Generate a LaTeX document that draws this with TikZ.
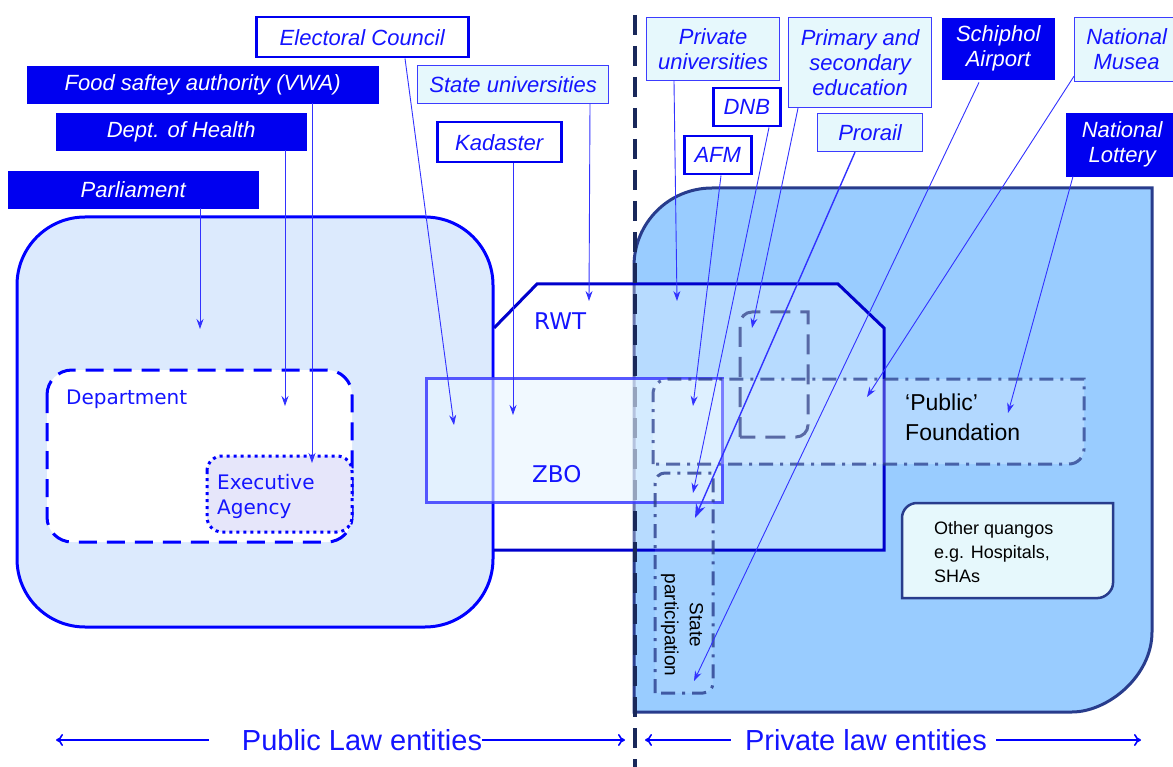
\documentclass[tikz,border=0pt]{standalone}
\usepackage{fontspec}
\setmainfont{Liberation Sans}
\newfontfamily\dvsans{DejaVu Sans}
\usetikzlibrary{arrows.meta}
\definecolor{txtblue}{RGB}{20,20,255}
\definecolor{boxblue}{RGB}{0,0,240}
\definecolor{lineblue}{RGB}{0,0,255}
\definecolor{navyedge}{RGB}{40,60,140}
\definecolor{rwtblue}{RGB}{0,0,204}
\definecolor{regionfill}{RGB}{153,204,255}
\definecolor{leftfill}{RGB}{220,234,253}
\definecolor{cyanfill}{RGB}{230,248,252}
\definecolor{labedge}{RGB}{60,60,255}
\definecolor{arrowblue}{RGB}{50,50,255}
\definecolor{dashnavy}{RGB}{25,40,90}
\definecolor{dashgray}{RGB}{70,85,150}
\definecolor{agencyfill}{RGB}{230,230,250}
\definecolor{zbofill}{RGB}{232,246,255}
\newcommand\labfont{\fontsize{22}{25}\selectfont\itshape}
\begin{document}
\begin{tikzpicture}[x=1pt,y=-1pt,
  lab/.style={font=\labfont, inner sep=0pt, align=center, anchor=north west},
  darkbox/.style={lab, fill=boxblue, draw=boxblue, text=white},
  whitebox/.style={lab, fill=white, draw=boxblue, line width=2.5pt, text=txtblue},
  cyanbox/.style={lab, fill=cyanfill, draw=labedge, line width=1.2pt, text=txtblue},
  conn/.style={draw=arrowblue, line width=0.9pt, -{Stealth[length=10pt,width=7pt]}},
  bigconn/.style={draw=arrowblue, line width=1.4pt, -{Stealth[length=14pt,width=10pt]}},
  lawarrow/.style={draw=lineblue, line width=1.6pt, -{To[length=7pt,width=12pt]}},
  inlabel/.style={inner sep=0pt, anchor=base west, text=txtblue, font=\dvsans\fontsize{20}{25}\selectfont},
  blacklabel/.style={inner sep=0pt, anchor=base west, text=black},
]
\useasboundingbox (0,0) rectangle (1173,767);
\fill[white] (0,0) rectangle (1173,767);

% left region (public law)
\draw[fill=leftfill, draw=lineblue, line width=3pt, rounded corners=68pt] (17,217) rectangle (493,627);
% right region (private law)
\draw[fill=regionfill, draw=navyedge, line width=3pt]
  (634,712) -- (634,266) .. controls (634,222.9) and (668.9,188) .. (712,188)
  -- (1152,188) -- (1152,632) .. controls (1152,676.2) and (1107.8,712) .. (1072,712) -- cycle;

% Department and Executive Agency
\draw[fill=white, draw=lineblue, line width=3pt, dash pattern=on 18pt off 10pt, rounded corners=25pt] (47,370) rectangle (352,542);
\draw[fill=agencyfill, draw=lineblue, line width=3pt, dash pattern=on 3pt off 4pt, rounded corners=15pt] (207,456) rectangle (352,532);

% RWT
\draw[fill=white, fill opacity=0.3, draw=rwtblue, line width=3pt]
  (494,328) -- (537,284) -- (838,284) -- (884,328) -- (884,550) -- (494,550);

% vertical dashed divider
\coordinate (vtop) at (635,15);
\coordinate (vbot) at (635,767);
\draw[dashnavy, line width=4.5pt, dash pattern=on 20pt off 11pt] (vtop) -- (vbot);

% ZBO
\draw[fill=zbofill, fill opacity=0.6, draw=labedge, draw opacity=0.85, line width=3pt] (426,378) rectangle (722,502);

% Public foundation
\draw[fill=white, fill opacity=0.25, draw=navyedge, draw opacity=0.75, line width=3pt,
      dash pattern=on 14pt off 7pt on 3pt off 7pt]
  (653,464) -- (653,394) .. controls (653,385.7) and (659.7,379) .. (668,379)
  -- (1084,379) -- (1084,449) .. controls (1084,457.3) and (1077.3,464) .. (1069,464) -- cycle;
% small dashed box
\draw[draw=dashgray, draw opacity=0.85, line width=3pt, dash pattern=on 20pt off 10pt]
  (740,437) -- (740,324) .. controls (740,317.4) and (745.4,312) .. (752,312)
  -- (808,312) -- (808,425) .. controls (808,431.6) and (802.6,437) .. (796,437) -- cycle;
% State participation
\draw[fill=white, fill opacity=0.12, draw=navyedge, draw opacity=0.8, line width=3pt,
      dash pattern=on 14pt off 7pt on 3pt off 7pt]
  (655,693) -- (655,483) .. controls (655,477.5) and (659.5,473) .. (665,473)
  -- (713,473) -- (713,683) .. controls (713,688.5) and (708.5,693) .. (703,693) -- cycle;
% Other quangos
\draw[fill=cyanfill, draw=navyedge, line width=2.5pt]
  (902,598) -- (902,518) .. controls (902,509.7) and (908.7,503) .. (917,503)
  -- (1113,503) -- (1113,583) .. controls (1113,591.3) and (1104.7,598) .. (1098,598) -- cycle;

% inner labels
\node[inlabel] (dept) at (66,404) {Department};
\node[inlabel, align=left, anchor=north west] (agency) at (217,474) {Executive\\Agency};
\node[inlabel, font=\dvsans\fontsize{23}{25}\selectfont] (rwt) at (534,330) {RWT};
\node[inlabel, font=\dvsans\fontsize{23}{25}\selectfont] (zbo) at (532,482) {ZBO};
\node[blacklabel, font=\fontsize{23}{30}\selectfont, align=left, anchor=north west] (found) at (905,394) {`Public'\\Foundation};
\node[blacklabel, font=\fontsize{18}{24}\selectfont, align=left, anchor=north west] (quango) at (934,521) {Other quangos\\e.g. Hospitals,\\SHAs};
\node[inner sep=0pt, text=black, font=\fontsize{19}{25}\selectfont, align=center, rotate=-90] (statep) at (682,625) {State\\participation};

% top labels
\node[whitebox, minimum width=212, minimum height=40] (elect) at (255,16) {Electoral Council};
\node[darkbox, minimum width=351, minimum height=37] (food) at (27,66) {Food saftey authority (VWA)};
\node[darkbox, minimum width=250, minimum height=37] (health) at (56,113) {Dept. of Health};
\node[darkbox, minimum width=250, minimum height=37] (parl) at (8,171) {Parliament};
\node[cyanbox, minimum width=191, minimum height=38] (stateu) at (417,65) {State universities};
\node[whitebox, minimum width=124, minimum height=40] (kad) at (436,121) {Kadaster};
\node[cyanbox, minimum width=133, minimum height=63] (privu) at (646,17) {Private\\universities};
\node[whitebox, minimum width=67, minimum height=38] (dnb) at (712,87) {DNB};
\node[whitebox, minimum width=67, minimum height=38] (afm) at (683,135) {AFM};
\node[cyanbox, minimum width=143, minimum height=90] (prim) at (788,17) {Primary and\\secondary\\education};
\node[cyanbox, minimum width=105, minimum height=38] (pror) at (817,113) {Prorail};
\node[darkbox, minimum width=112, minimum height=61] (schip) at (942,18) {Schiphol\\Airport};
\node[cyanbox, minimum width=104, minimum height=64] (musea) at (1074,17) {National\\Musea};
\node[darkbox, minimum width=112, minimum height=63] (lott) at (1066,113) {National\\Lottery};

% arrow targets
\coordinate (tparl) at (200,329);
\coordinate (thealth) at (285,406);
\coordinate (tfood) at (312,463);
\coordinate (telect) at (454,425);
\coordinate (tkad) at (513,415);
\coordinate (tstateu) at (589,301);
\coordinate (tprivu) at (677,301);
\coordinate (tafm) at (693,406);
\coordinate (tdnb) at (693,493);
\coordinate (tprim) at (752,328);
\coordinate (tpror) at (695,518);
\coordinate (tschip) at (694,681);
\coordinate (tmusea) at (867,397);
\coordinate (tlott) at (1008,413);

\draw[conn] ([xshift=192pt]parl.south west) -- (tparl);
\draw[conn] ([xshift=229pt]health.south west) -- (thealth);
\draw[conn] ([xshift=285pt]food.south west) -- (tfood);
\draw[conn] ([xshift=150pt]elect.south west) -- (telect);
\draw[conn] ([xshift=77pt]kad.south west) -- (tkad);
\draw[conn] ([xshift=173pt]stateu.south west) -- (tstateu);
\draw[conn] ([xshift=28pt]privu.south west) -- (tprivu);
\draw[conn] ([xshift=38pt]afm.south west) -- (tafm);
\draw[conn] ([xshift=57pt]dnb.south west) -- (tdnb);
\draw[conn] ([xshift=10pt]prim.south west) -- (tprim);
\draw[bigconn] ([xshift=38pt]pror.south west) -- (tpror);
\draw[conn] ([xshift=37pt,yshift=-3pt]schip.south west) -- (tschip);
\draw[conn] ([yshift=6pt]musea.south west) -- (tmusea);
\draw[conn] ([xshift=7pt]lott.south west) -- (tlott);

% bottom law labels
\node[inner sep=0pt, text=txtblue, font=\fontsize{29}{30}\selectfont] (publaw) at (362,740) {Public Law entities};
\node[inner sep=0pt, text=txtblue, font=\fontsize{29}{30}\selectfont] (privlaw) at (866,740) {Private law entities};
\coordinate (pl1) at (56,740);
\coordinate (pl2) at (625,740);
\coordinate (pr1) at (645,740);
\coordinate (pr2) at (1141,740);
\draw[lawarrow] ([xshift=-33pt]publaw.west) -- (pl1);
\draw[lawarrow] (publaw.east) -- (pl2);
\draw[lawarrow] ([xshift=-14pt]privlaw.west) -- (pr1);
\draw[lawarrow] ([xshift=9pt]privlaw.east) -- (pr2);
\end{tikzpicture}
\end{document}
